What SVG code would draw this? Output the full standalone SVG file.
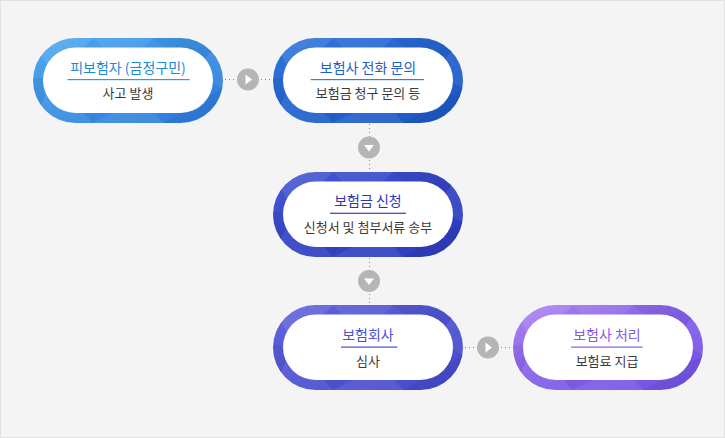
<svg xmlns="http://www.w3.org/2000/svg" width="725" height="438" viewBox="0 0 725 438">
<style>
.t{font-family:"Noto Sans CJK KR","Noto Sans",sans-serif;font-size:14px;text-anchor:middle}
.s{font-family:"Noto Sans CJK KR","Noto Sans",sans-serif;font-size:13px;text-anchor:middle;fill:#3a3a3a}
.dot{stroke:#8a8a8a;stroke-width:1;stroke-dasharray:1 3;fill:none}
.btn{fill:#b5b5b5}
.tri{fill:#fff}
</style>
<defs>
<clipPath id="pill"><rect x="0" y="0" width="190" height="85" rx="42.5"/></clipPath>
<linearGradient id="g1" x1="0" y1="0" x2="1" y2="1"><stop offset="0" stop-color="#4eaaf0"/><stop offset="0.5" stop-color="#3a8fe4"/><stop offset="1" stop-color="#2c78de"/></linearGradient>
<linearGradient id="g2" x1="0" y1="0" x2="1" y2="1"><stop offset="0" stop-color="#3076da"/><stop offset="0.5" stop-color="#2464d0"/><stop offset="1" stop-color="#1c56c4"/></linearGradient>
<linearGradient id="g3" x1="0" y1="0" x2="1" y2="1"><stop offset="0" stop-color="#4558d4"/><stop offset="0.5" stop-color="#3545c6"/><stop offset="1" stop-color="#2c3bbc"/></linearGradient>
<linearGradient id="g4" x1="0" y1="0" x2="1" y2="1"><stop offset="0" stop-color="#6264dc"/><stop offset="0.5" stop-color="#5054d2"/><stop offset="1" stop-color="#4549cc"/></linearGradient>
<linearGradient id="g5" x1="0" y1="0" x2="1" y2="1"><stop offset="0" stop-color="#b184f2"/><stop offset="0.45" stop-color="#8662ea"/><stop offset="1" stop-color="#6f4fe4"/></linearGradient>
<g id="facets">
<polygon points="0,0 60,0 20,40" fill="#fff" opacity="0.10"/>
<polygon points="60,0 120,0 90,30" fill="#fff" opacity="0.07"/>
<polygon points="120,0 190,0 160,35" fill="#000" opacity="0.05"/>
<polygon points="0,40 20,40 0,85" fill="#000" opacity="0.05"/>
<polygon points="20,40 60,85 0,85" fill="#fff" opacity="0.06"/>
<polygon points="60,85 110,60 130,85" fill="#fff" opacity="0.08"/>
<polygon points="130,85 190,50 190,85" fill="#000" opacity="0.06"/>
<polygon points="160,35 190,0 190,50" fill="#fff" opacity="0.06"/>
<polygon points="90,30 160,35 110,60" fill="#000" opacity="0.04"/>
<polygon points="20,40 90,30 60,85" fill="#000" opacity="0.03"/>
</g>
<g id="ringbase">
<g clip-path="url(#pill)"><use href="#facets"/></g>
<rect x="10" y="9.5" width="170" height="65.5" rx="32.75" fill="#fff"/>
</g>
</defs>
<rect x="0.5" y="0.5" width="724" height="437" fill="#f4f4f4" stroke="#e2e2e2"/>

<g id="connectors">
<line class="dot" x1="225" y1="79.5" x2="272" y2="79.5"/>
<circle class="btn" cx="248" cy="79.5" r="11"/>
<polygon class="tri" points="245.5,74.5 245.5,84.5 252,79.5"/>
<line class="dot" x1="369.5" y1="124" x2="369.5" y2="171"/>
<circle class="btn" cx="369" cy="147.5" r="11"/>
<polygon class="tri" points="364,145 374,145 369,151.5"/>
<line class="dot" x1="369.5" y1="258" x2="369.5" y2="304"/>
<circle class="btn" cx="369" cy="281" r="11"/>
<polygon class="tri" points="364,278.5 374,278.5 369,285"/>
<line class="dot" x1="465" y1="347.5" x2="512" y2="347.5"/>
<circle class="btn" cx="488" cy="347.5" r="11"/>
<polygon class="tri" points="485.5,342.5 485.5,352.5 492,347.5"/>
</g>

<g id="node1" transform="translate(33,38)">
<rect width="190" height="85" rx="42.5" fill="url(#g1)"/>
<use href="#ringbase"/>
<text class="t" x="95" y="35" fill="#1b8ad6">피보험자 (금정구민)</text>
<rect x="34.5" y="41" width="122" height="1.2" fill="#1fa0e8"/>
<text class="s" x="95" y="60">사고 발생</text>
</g>

<g id="node2" transform="translate(273,38)">
<rect width="190" height="85" rx="42.5" fill="url(#g2)"/>
<use href="#ringbase"/>
<text class="t" x="95" y="35" fill="#1f5fc9">보험사 전화 문의</text>
<rect x="37.7" y="41" width="113.3" height="1.2" fill="#2a82e8"/>
<text class="s" x="95" y="60">보험금 청구 문의 등</text>
</g>

<g id="node3" transform="translate(273,172)">
<rect width="190" height="85" rx="42.5" fill="url(#g3)"/>
<use href="#ringbase"/>
<text class="t" x="95" y="34" fill="#2b37b6">보험금 신청</text>
<rect x="57" y="40.7" width="76" height="1.2" fill="#3342c4"/>
<text class="s" x="95" y="59.5">신청서 및 첨부서류 송부</text>
</g>

<g id="node4" transform="translate(273,305)">
<rect width="190" height="85" rx="42.5" fill="url(#g4)"/>
<use href="#ringbase"/>
<text class="t" x="95" y="35" fill="#4a4ed8">보험회사</text>
<rect x="68" y="41.5" width="56.3" height="1.2" fill="#4a4ed8"/>
<text class="s" x="95" y="60.5">심사</text>
</g>

<g id="node5" transform="translate(513,305)">
<rect width="190" height="85" rx="42.5" fill="url(#g5)"/>
<use href="#ringbase"/>
<text class="t" x="94" y="35" fill="#8658ee">보험사 처리</text>
<rect x="58" y="41.5" width="71.7" height="1.2" fill="#8a5cf2"/>
<text class="s" x="94" y="60.5">보험료 지급</text>
</g>
</svg>
